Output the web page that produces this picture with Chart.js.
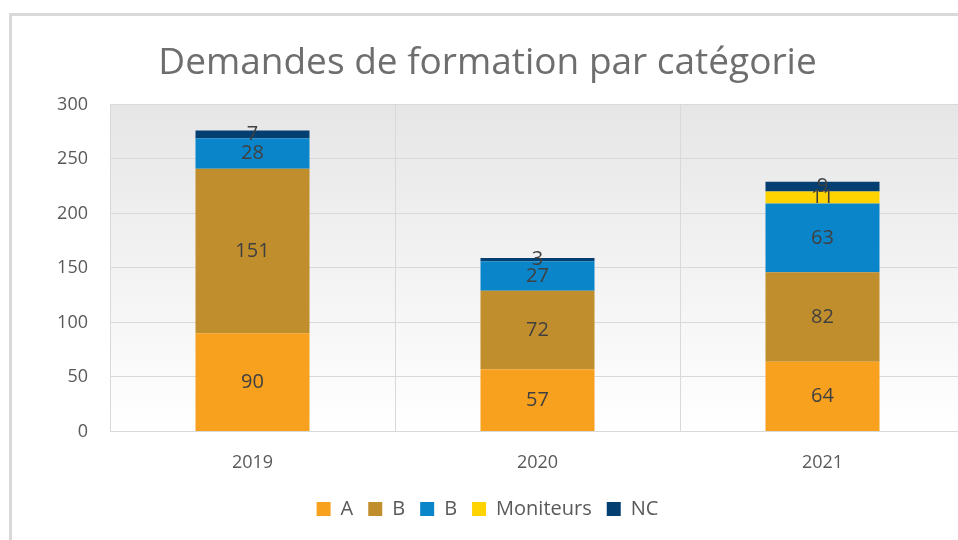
<!DOCTYPE html>
<html>
<head>
<meta charset="utf-8">
<script src="https://cdn.jsdelivr.net/npm/chart.js@4/dist/chart.umd.min.js"></script>
<style>
  html, body { margin: 0; padding: 0; background: #fff; overflow: hidden; }
  #wrap { position: relative; width: 958px; height: 540px; overflow: hidden; }
  #frame { position: absolute; left: 9px; top: 13px; width: 1000px; height: 600px;
           border-top: 3px solid #d9d9d9; border-left: 3px solid #d9d9d9; }
  #chart { position: absolute; left: 0; top: 0; }
</style>
</head>
<body>
<div id="wrap">
  <div id="frame"></div>
  <canvas id="chart" width="975" height="540"></canvas>
</div>
<script>
var years = ['2019', '2020', '2021'];
var seriesA = [90, 57, 64];
var seriesB1 = [151, 72, 82];
var seriesB2 = [28, 27, 63];
var seriesMoniteurs = [0, 0, 11];
var seriesNC = [7, 3, 9];
var yTicks = [0, 50, 100, 150, 200, 250, 300];

var textFont = "'Open Sans', 'DejaVu Sans', sans-serif";

// plot area gradient background
var plotBackground = {
    id: 'plotBackground',
    beforeDraw: function (chart) {
        var a = chart.chartArea, ctx = chart.ctx;
        var g = ctx.createLinearGradient(0, a.top, 0, a.bottom);
        g.addColorStop(0, '#e6e6e6');
        g.addColorStop(1, '#ffffff');
        ctx.save();
        ctx.fillStyle = g;
        ctx.fillRect(a.left, a.top, a.right - a.left, a.bottom - a.top);
        ctx.restore();
    }
};

// value labels centred in each segment
var segmentLabels = {
    id: 'segmentLabels',
    afterDatasetsDraw: function (chart) {
        var ctx = chart.ctx;
        ctx.save();
        ctx.font = '20px ' + textFont;
        ctx.fillStyle = '#404040';
        ctx.textAlign = 'center';
        ctx.textBaseline = 'middle';
        chart.data.datasets.forEach(function (ds, i) {
            var meta = chart.getDatasetMeta(i);
            meta.data.forEach(function (bar, j) {
                var v = ds.data[j];
                if (!v) return;
                ctx.fillText(String(v), bar.x, (bar.y + bar.base) / 2);
            });
        });
        ctx.restore();
    }
};

var ctx = document.getElementById('chart').getContext('2d');
var chart = new Chart(ctx, {
    type: 'bar',
    data: {
        labels: years,
        datasets: [
            { label: 'A', data: seriesA, backgroundColor: '#f7a11f' },
            { label: 'B', data: seriesB1, backgroundColor: '#c18e2d' },
            { label: 'B', data: seriesB2, backgroundColor: '#0a85c9' },
            { label: 'Moniteurs', data: seriesMoniteurs, backgroundColor: '#ffd300' },
            { label: 'NC', data: seriesNC, backgroundColor: '#033f70' }
        ]
    },
    options: {
        responsive: false,
        animation: false,
        devicePixelRatio: 1,
        layout: { padding: { left: 10, right: 10, top: 0, bottom: 11 } },
        datasets: {
            bar: { barPercentage: 0.4, categoryPercentage: 1, borderWidth: 0 }
        },
        plugins: {
            title: {
                display: true,
                text: 'Demandes de formation par catégorie',
                color: '#6e6e6e',
                font: { family: textFont, size: 37, weight: 'normal' },
                padding: { top: 41, bottom: 19 }
            },
            legend: {
                position: 'bottom',
                labels: {
                    color: '#595959',
                    font: { family: textFont, size: 20 },
                    boxWidth: 14,
                    boxHeight: 14,
                    padding: 15
                }
            },
            tooltip: { enabled: false }
        },
        scales: {
            x: {
                stacked: true,
                afterFit: function (scale) { scale.height = scale.height - 11; },
                grid: { color: '#d9d9d9', drawTicks: false, offset: true },
                border: { color: '#d9d9d9' },
                ticks: { color: '#595959', font: { family: textFont, size: 18 }, padding: 21 }
            },
            y: {
                stacked: true,
                min: 0,
                max: 300,
                afterBuildTicks: function (scale) {
                    scale.ticks = yTicks.map(function (v) { return { value: v }; });
                },
                afterFit: function (scale) { scale.width = 100; },
                grid: { color: '#d9d9d9', drawTicks: false },
                border: { color: '#d9d9d9' },
                ticks: { color: '#595959', font: { family: textFont, size: 18 }, padding: 22 }
            }
        }
    },
    plugins: [plotBackground, segmentLabels]
});
</script>
</body>
</html>
